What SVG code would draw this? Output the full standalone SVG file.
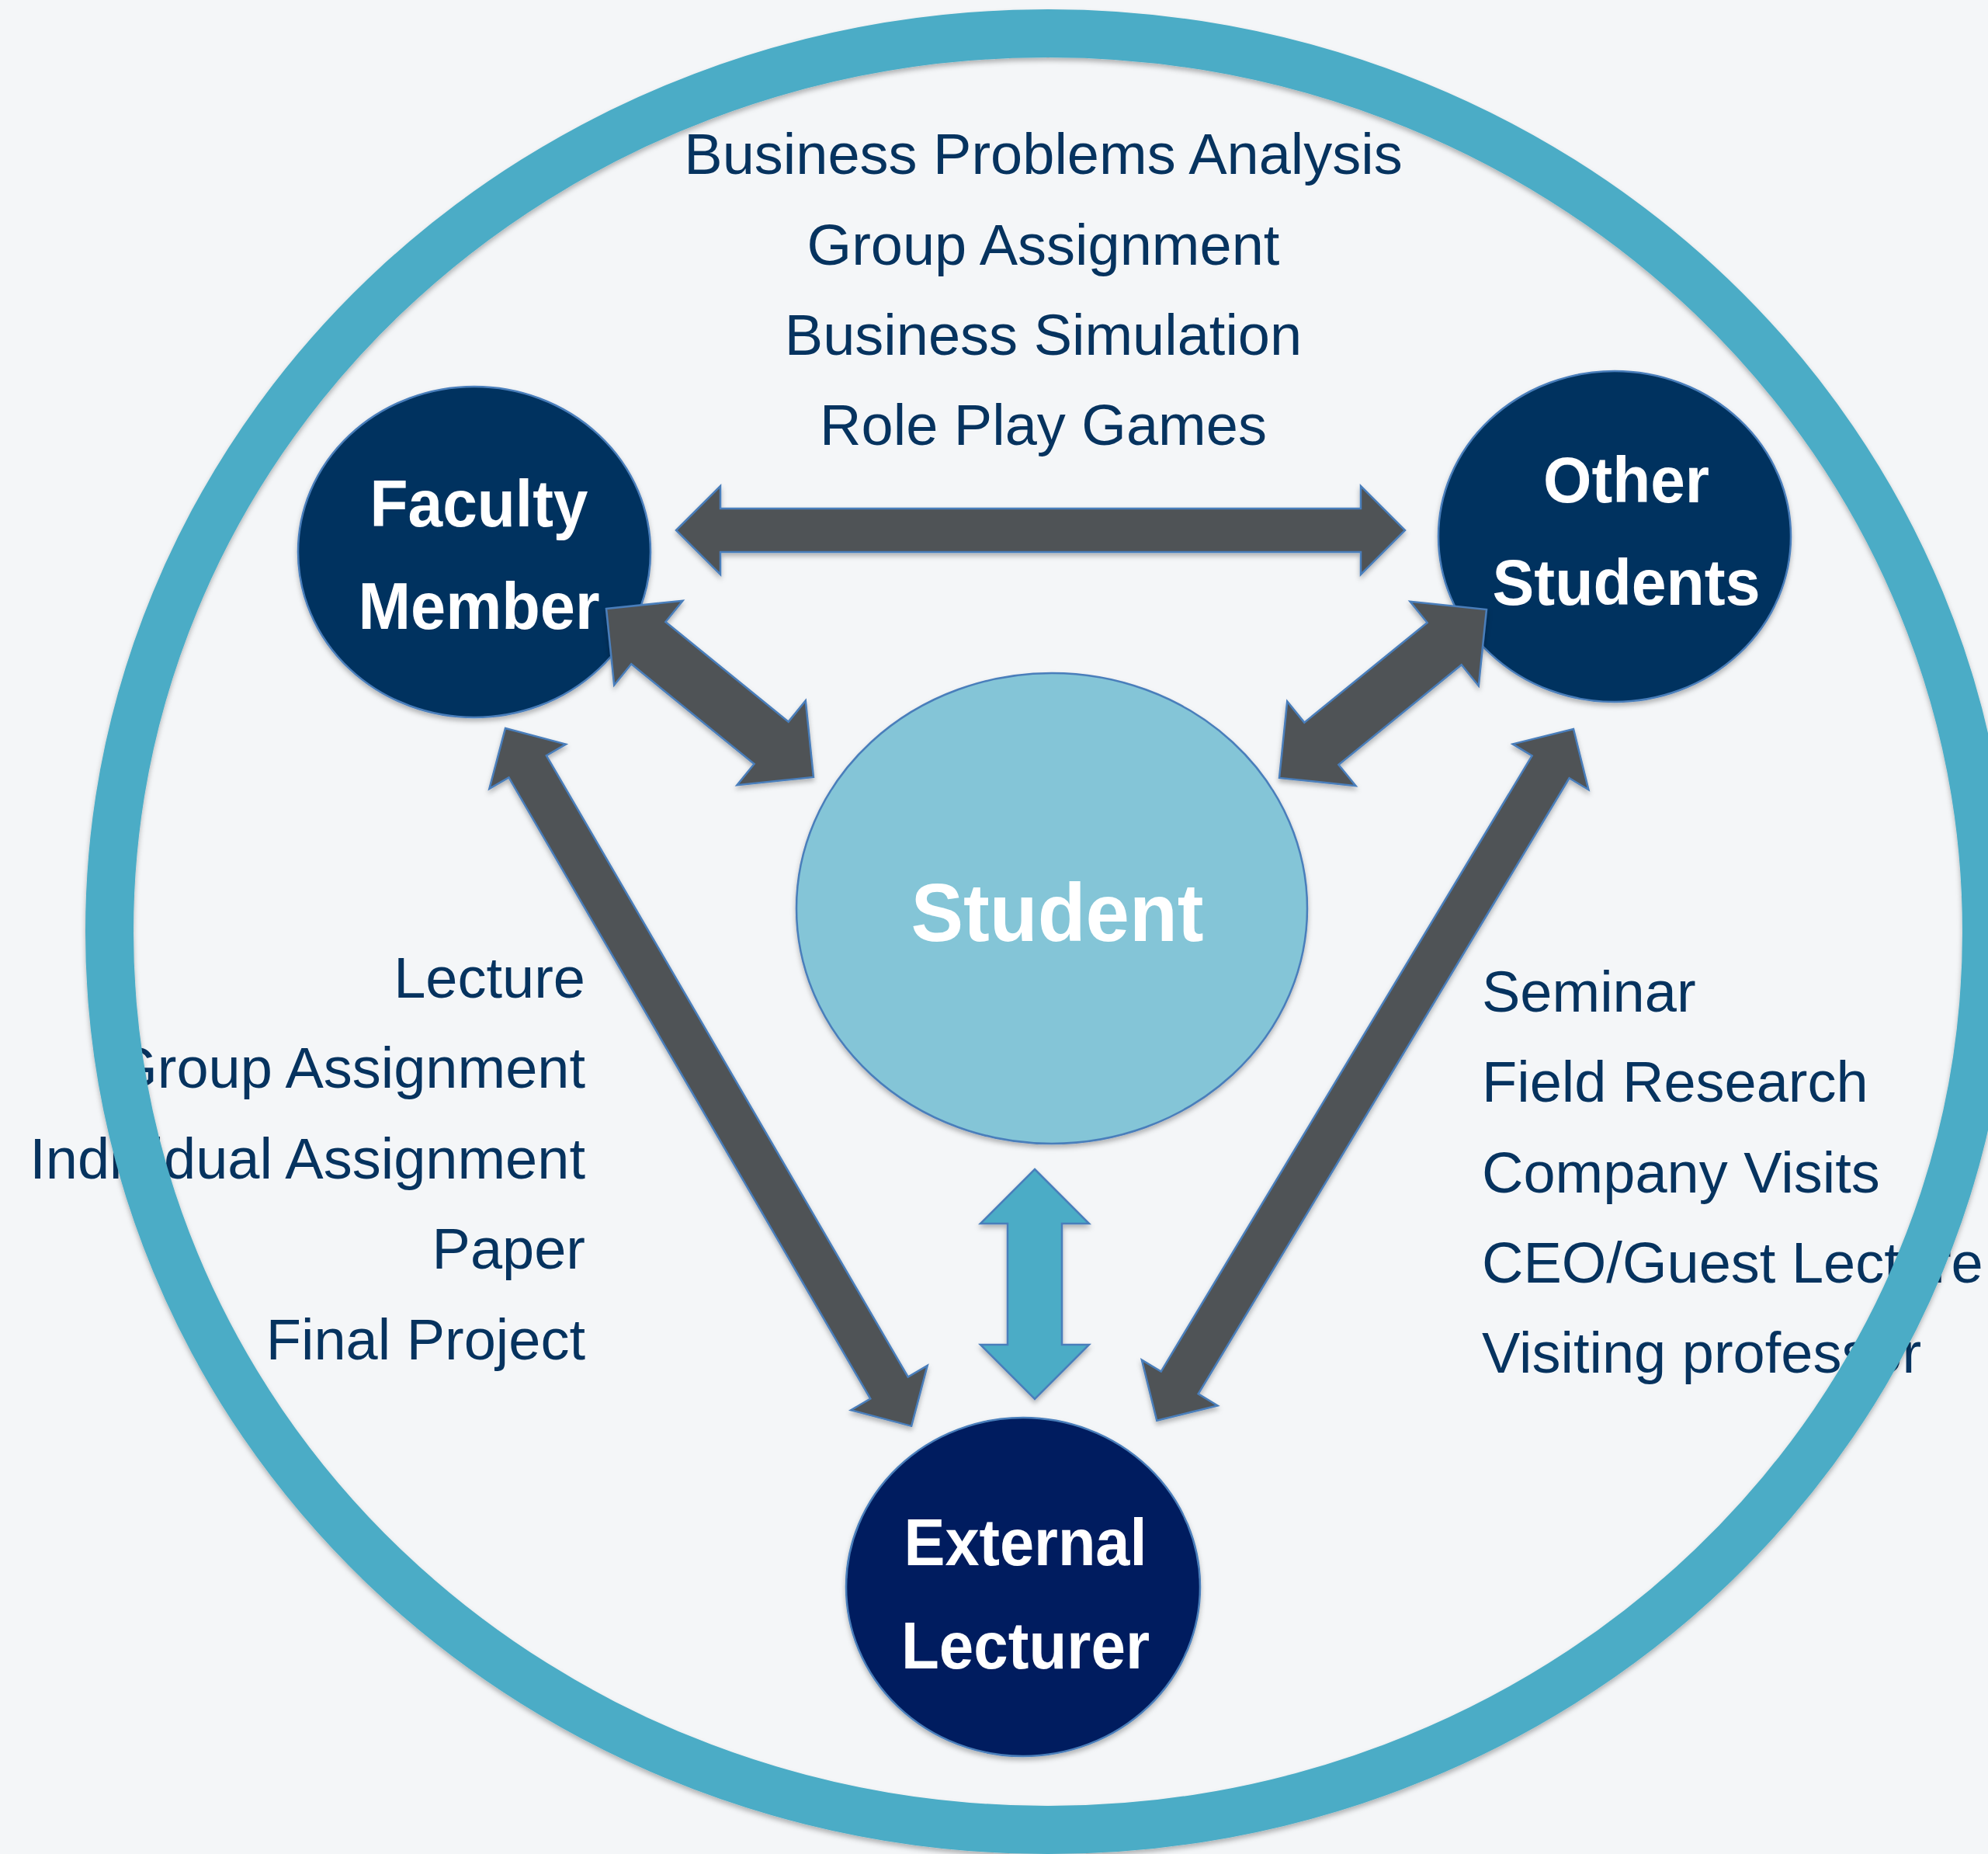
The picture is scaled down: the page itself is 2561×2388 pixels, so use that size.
<svg xmlns="http://www.w3.org/2000/svg" width="2561" height="2388" viewBox="0 0 2561 2388">
  <style>
    .bg { fill: #F4F6F8; }
    .ring { fill: none; stroke: #4BACC6; stroke-width: 62; }
    .label { font-family: "Liberation Sans", Arial, sans-serif; font-size: 74px; fill: #06335F; }
    .node { stroke: #4A7EBB; stroke-width: 2.5; }
    .navy { fill: #00335F; }
    .deep { fill: #001F5E; }
    .light { fill: #84C5D7; }
    .title { font-family: "Liberation Sans", Arial, sans-serif; font-weight: bold; fill: #FFFFFF; text-anchor: middle; }
    .arrow { fill: #4F5357; stroke: #4A7EBB; stroke-width: 2.5; stroke-linejoin: miter; }
    .arrow-blue { fill: #4BACC6; stroke: #4A7EBB; stroke-width: 2.5; }
  </style>
  <defs>
    <filter id="shadow" x="-10%" y="-10%" width="120%" height="120%">
      <feDropShadow dx="0" dy="4" stdDeviation="3" flood-color="#000000" flood-opacity="0.28"/>
    </filter>
  </defs>

  <rect class="bg" x="0" y="0" width="2561" height="2388"/>

  <!-- activity lists (sit beneath the outer ring) -->
  <g id="labels-top" class="label" text-anchor="middle">
    <text x="1344" y="224">Business Problems Analysis</text>
    <text x="1344" y="341">Group Assignment</text>
    <text x="1344" y="457">Business Simulation</text>
    <text x="1344" y="573">Role Play Games</text>
  </g>
  <g id="labels-left" class="label" text-anchor="end">
    <text x="754" y="1285">Lecture</text>
    <text x="754" y="1401">Group Assignment</text>
    <text x="754" y="1518">Individual Assignment</text>
    <text x="754" y="1634">Paper</text>
    <text x="754" y="1751">Final Project</text>
  </g>
  <g id="labels-right" class="label" text-anchor="start">
    <text x="1909" y="1303">Seminar</text>
    <text x="1909" y="1419">Field Research</text>
    <text x="1909" y="1536">Company Visits</text>
    <text x="1909" y="1652">CEO/Guest Lecture</text>
    <text x="1909" y="1768">Visiting professor</text>
  </g>

  <!-- outer ring -->
  <g id="ring" filter="url(#shadow)">
    <ellipse class="ring" cx="1350" cy="1200" rx="1209" ry="1157"/>
  </g>

  <!-- nodes -->
  <g id="node-student" filter="url(#shadow)">
    <ellipse class="node light" cx="1355" cy="1170" rx="329" ry="303"/>
    <text class="title" x="1362" y="1212" font-size="106" textLength="377" lengthAdjust="spacingAndGlyphs">Student</text>
  </g>
  <g id="node-faculty" filter="url(#shadow)">
    <ellipse class="node navy" cx="611" cy="711" rx="227" ry="213"/>
    <text class="title" x="617" y="678" font-size="85" textLength="281" lengthAdjust="spacingAndGlyphs">Faculty</text>
    <text class="title" x="617" y="810" font-size="85" textLength="311" lengthAdjust="spacingAndGlyphs">Member</text>
  </g>
  <g id="node-others" filter="url(#shadow)">
    <ellipse class="node navy" cx="2080" cy="691" rx="227" ry="213"/>
    <text class="title" x="2095" y="647" font-size="84" textLength="214" lengthAdjust="spacingAndGlyphs">Other</text>
    <text class="title" x="2095" y="779" font-size="84" textLength="345" lengthAdjust="spacingAndGlyphs">Students</text>
  </g>
  <g id="node-external" filter="url(#shadow)">
    <ellipse class="node deep" cx="1318" cy="2044" rx="228" ry="218"/>
    <text class="title" x="1321" y="2016" font-size="85" textLength="313" lengthAdjust="spacingAndGlyphs">External</text>
    <text class="title" x="1321" y="2149" font-size="85" textLength="320" lengthAdjust="spacingAndGlyphs">Lecturer</text>
  </g>

  <!-- connectors: double-headed block arrows, drawn along +x from one tip and rotated into place -->
  <g id="connectors" filter="url(#shadow)">
    <path class="arrow" transform="translate(871,683)"
          d="M0,0 L57,-57 L57,-28 L882,-28 L882,-57 L939,0 L882,57 L882,28 L57,28 L57,57 Z"/>
    <path class="arrow" transform="translate(781,784) rotate(39.1)"
          d="M0,0 L70,-70 L70,-35 L274,-35 L274,-70 L344,0 L274,70 L274,35 L70,35 L70,70 Z"/>
    <path class="arrow" transform="translate(1915,785) rotate(140.9)"
          d="M0,0 L70,-70 L70,-35 L274,-35 L274,-70 L344,0 L274,70 L274,35 L70,35 L70,70 Z"/>
    <path class="arrow" transform="translate(651,938) rotate(59.8)"
          d="M0,0 L57,-57 L57,-28 L983,-28 L983,-57 L1040,0 L983,57 L983,28 L57,28 L57,57 Z"/>
    <path class="arrow" transform="translate(2027,939) rotate(121.07)"
          d="M0,0 L57,-57 L57,-28 L983,-28 L983,-57 L1040,0 L983,57 L983,28 L57,28 L57,57 Z"/>
    <path class="arrow-blue" transform="translate(1333,1506) rotate(90)"
          d="M0,0 L70,-70 L70,-35 L226,-35 L226,-70 L296,0 L226,70 L226,35 L70,35 L70,70 Z"/>
  </g>
</svg>
